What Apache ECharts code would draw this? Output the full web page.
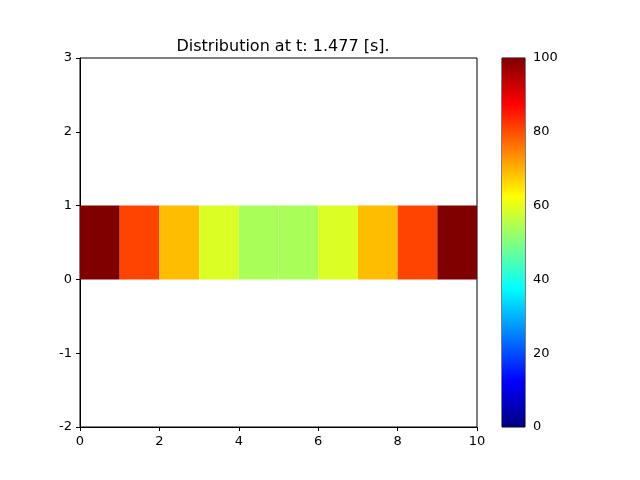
<!DOCTYPE html>
<html>
<head>
<meta charset="utf-8">
<script src="https://cdn.jsdelivr.net/npm/echarts@6/dist/echarts.min.js"></script>
<style>html,body{margin:0;background:#fff}</style>
</head>
<body>
<div id="main" style="width:640px;height:480px"></div>
<script>
// cell values along x (each cell is 1 wide, spans y 0..1)
const cellValues = [100, 81, 69, 59, 54, 54, 59, 69, 81, 100]
const xTicks = [0, 2, 4, 6, 8, 10]
const yTicks = [-2, -1, 0, 1, 2, 3]
const cbarTicks = [0, 20, 40, 60, 80, 100]
const jet = ['#000080', '#0000ff', '#0080ff', '#00ffff', '#80ff80', '#ffff00', '#ff8000', '#ff0000', '#800000']

const cells = cellValues.map((v, i) => [i, i + 1, 0, 1, v])

const chart = echarts.init(document.getElementById('main'))
const axisCommon = {
  axisLine: { onZero: false, lineStyle: { color: '#000' } },
  axisTick: { inside: false, length: 4, lineStyle: { color: '#000' } },
  axisLabel: { color: '#000', fontSize: 13, fontFamily: 'DejaVu Sans' },
  splitLine: { show: false }
}
chart.setOption({
  backgroundColor: '#fff',
  animation: false,
  title: {
    text: 'Distribution at t: 1.477 [s].',
    left: 278, top: 34, textAlign: 'center',
    textStyle: { fontSize: 16, fontWeight: 'normal', color: '#000', fontFamily: 'DejaVu Sans' }
  },
  grid: [
    { left: 80, top: 58, width: 397, height: 369, show: true, borderColor: '#000', borderWidth: 1, backgroundColor: 'transparent' },
    { left: 502, top: 58, width: 23, height: 369, show: true, borderColor: '#000', borderWidth: 1, backgroundColor: 'transparent' }
  ],
  xAxis: [
    Object.assign({ type: 'value', gridIndex: 0, min: 0, max: 10, interval: 2 }, axisCommon),
    { type: 'category', gridIndex: 1, data: ['c'], show: false }
  ],
  yAxis: [
    Object.assign({ type: 'value', gridIndex: 0, min: -2, max: 3, interval: 1 }, axisCommon),
    Object.assign({ type: 'value', gridIndex: 1, min: 0, max: 100, interval: 20, position: 'right' }, axisCommon)
  ],
  visualMap: {
    show: false, min: 0, max: 100, dimension: 4, seriesIndex: 0,
    inRange: { color: jet }
  },
  series: [
    {
      type: 'custom',
      xAxisIndex: 0, yAxisIndex: 0,
      data: cells,
      encode: { x: [0, 1], y: [2, 3] },
      renderItem: (params, api) => {
        const p0 = api.coord([api.value(0), api.value(3)])
        const p1 = api.coord([api.value(1), api.value(2)])
        return {
          type: 'rect',
          shape: { x: p0[0], y: p0[1], width: p1[0] - p0[0], height: p1[1] - p0[1] },
          style: { fill: api.visual('color') }
        }
      }
    },
    {
      type: 'bar',
      xAxisIndex: 1, yAxisIndex: 1,
      barWidth: '100%',
      data: [100],
      itemStyle: {
        color: new echarts.graphic.LinearGradient(0, 1, 0, 0,
          jet.map((c, i) => ({ offset: i / (jet.length - 1), color: c })))
      }
    }
  ]
})
</script>
</body>
</html>
